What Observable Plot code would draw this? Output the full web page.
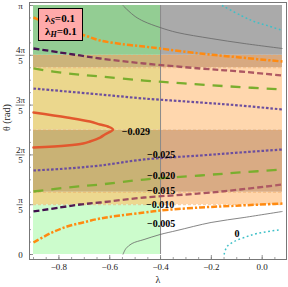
<!DOCTYPE html>
<html><head><meta charset="utf-8">
<script src="https://cdn.jsdelivr.net/npm/d3@7"></script>
<script src="https://cdn.jsdelivr.net/npm/@observablehq/plot@0.6"></script>
<style>
body{margin:0;background:#fff;}
#wrap{position:relative;width:288px;height:287px;}
#key{position:absolute;left:38px;top:8px;width:45px;height:33px;background:#ffaaaa;border:1px solid #000;box-sizing:border-box;
 font:bold 11px "Liberation Serif","Times New Roman",serif;line-height:13px;padding:3px 0 0 6px;color:#000}
#key sub{font-size:8px;font-style:italic;vertical-align:-2px;line-height:0}
</style></head><body>
<div id="wrap"><div id="chart"></div>
<div id="key"><div>λ<sub>S</sub>=0.1</div><div>λ<sub>H</sub>=0.1</div></div></div>
<script>
const PI = Math.PI;
// θ band edges and fills (left of λ=-0.4, right of λ=-0.4)
const thetaEdges = [0, PI/5, PI/4, PI/2, 3*PI/4, 4*PI/5, PI];
const lamEdges = [-0.9, -0.4, 0.08];
const leftFills  = ["#ccfccc","#ecd88f","#c9b275","#ebd78d","#ccb47b","#93cd93"];
const rightFills = ["#ffffff","#ffd5ab","#d9ab84","#ffd7ae","#d7a981","#aaaaaa"];

// contour lines: [λ, θ]
const orangeUpper = [[-0.9,2.990],[-0.835,2.902],[-0.757,2.814],[-0.698,2.763],[-0.638,2.700],[-0.540,2.650],[-0.465,2.624],[-0.402,2.599],[-0.244,2.536],[-0.087,2.486],[0.08,2.435]];
const orangeLower = [[-0.9,0.151],[-0.835,0.265],[-0.768,0.353],[-0.705,0.404],[-0.638,0.454],[-0.560,0.492],[-0.465,0.530],[-0.402,0.555],[-0.244,0.593],[-0.087,0.618],[0.08,0.643]];
const brownUpper = [[-0.9,2.599],[-0.796,2.549],[-0.717,2.511],[-0.638,2.473],[-0.465,2.410],[-0.244,2.347],[-0.087,2.309],[0.08,2.258]];
const brownLower = [[-0.9,0.543],[-0.796,0.593],[-0.717,0.631],[-0.638,0.656],[-0.465,0.719],[-0.244,0.770],[-0.087,0.820],[0.08,0.883]];
const greenUpper = [[-0.9,2.347],[-0.768,2.284],[-0.638,2.246],[-0.465,2.195],[-0.307,2.158],[-0.126,2.120],[0.08,2.082]];
const greenLower = [[-0.9,0.795],[-0.768,0.845],[-0.638,0.883],[-0.465,0.946],[-0.244,0.997],[-0.087,1.035],[0.08,1.072]];
const purpleUpper = [[-0.9,2.094],[-0.638,2.019],[-0.465,1.968],[-0.244,1.918],[-0.087,1.880],[0.08,1.829]];
const purpleLower = [[-0.9,1.060],[-0.768,1.085],[-0.638,1.123],[-0.465,1.199],[-0.244,1.249],[-0.087,1.287],[0.08,1.325]];
const redLoop = [[-0.9,1.792],[-0.768,1.729],[-0.678,1.678],[-0.638,1.640],[-0.607,1.615],[-0.587,1.577],[-0.619,1.514],[-0.638,1.476],[-0.678,1.426],[-0.705,1.400],[-0.768,1.375],[-0.9,1.350]];
const grayUpper = [[-0.548,3.1416],[-0.528,3.079],[-0.500,3.003],[-0.465,2.940],[-0.402,2.864],[-0.335,2.801],[-0.201,2.725],[-0.071,2.662],[0.08,2.599]];
const grayLower = [[-0.548,0],[-0.536,0.076],[-0.512,0.139],[-0.465,0.189],[-0.402,0.252],[-0.335,0.303],[-0.201,0.404],[-0.071,0.467],[0.08,0.543]];
const cyanUpper = [[-0.158,3.1416],[-0.083,3.015],[-0.032,2.940],[0.020,2.889],[0.08,2.826]];
const cyanLower = [[-0.150,0],[-0.138,0.101],[-0.110,0.164],[-0.071,0.214],[-0.020,0.265],[0.075,0.315]];

// contour labels
const labelText  = ["−0.029","−0.025","−0.020","−0.015","−0.010","−0.005","0"];
const labelLam   = [-0.497,-0.398,-0.398,-0.398,-0.402,-0.398,-0.099];
const labelTheta = [1.552,1.262,0.997,0.807,0.631,0.391,0.265];

// ticks
const xMajor = [-0.8,-0.6,-0.4,-0.2,0];
const xMinor = d3.range(-0.9,0.08,0.05).map(v=>+v.toFixed(2));
const yMajor = [0,PI/5,2*PI/5,3*PI/5,4*PI/5,PI];
const yMinor = d3.range(0,21).map(k=>k*PI/20);

const bands = [];
for (let i=0;i<thetaEdges.length-1;i++){
  bands.push({x1:lamEdges[0],x2:lamEdges[1],y1:thetaEdges[i],y2:thetaEdges[i+1],fill:leftFills[i]});
  bands.push({x1:lamEdges[1],x2:lamEdges[2],y1:thetaEdges[i],y2:thetaEdges[i+1],fill:rightFills[i]});
}
const labels = labelText.map((t,i)=>({t,x:labelLam[i],y:labelTheta[i]}));
const fx = d=>d[0], fy = d=>d[1];
const fmtY = d=>{const k=Math.round(d*5/PI); return k===0?"0":k===5?"π":(k===1?"":k)+"π\n5";};
const fmtX = d=>d===0?"0.0":d3.format(".1f")(d);
const lineOpts = (o)=>Object.assign({x:fx,y:fy,curve:"catmull-rom",strokeLinecap:"butt"},o);
const W=288,H=287,ML=29,MR=2,MT=2,MB=28;
const FW=W-ML-MR, FH=H-MT-MB;

const svg = Plot.plot({
  width:W,height:H,marginLeft:ML,marginRight:MR,marginTop:MT,marginBottom:MB,
  style:{fontFamily:'"Liberation Serif","Times New Roman",serif',fontSize:"9px",background:"white",color:"#222"},
  x:{domain:[-0.9,0.08],inset:4},
  y:{domain:[0,PI],insetTop:3,insetBottom:5},
  color:{type:"identity"},
  marks:[
    Plot.rect(bands,{x1:"x1",x2:"x2",y1:"y1",y2:"y2",fill:"fill"}),
    Plot.ruleY(thetaEdges.slice(1,-1),{x1:lamEdges[0],x2:lamEdges[2],stroke:"#f0a860",strokeDasharray:"3,2",strokeOpacity:0.6}),
    Plot.ruleX([lamEdges[1]],{y1:0,y2:PI,stroke:"#8a8a8a"}),
    Plot.line(grayUpper,lineOpts({stroke:"#666",strokeWidth:0.8})),
    Plot.line(grayLower,lineOpts({stroke:"#666",strokeWidth:0.8})),
    Plot.line(cyanUpper,lineOpts({stroke:"#3ec0c8",strokeWidth:1.5,strokeDasharray:"1.8,2.6"})),
    Plot.line(cyanLower,lineOpts({stroke:"#3ec0c8",strokeWidth:1.5,strokeDasharray:"1.8,2.6"})),
    Plot.line(purpleUpper,lineOpts({stroke:"#6c4e9e",strokeWidth:2.2,strokeDasharray:"2.6,1.8"})),
    Plot.line(purpleLower,lineOpts({stroke:"#6c4e9e",strokeWidth:2.2,strokeDasharray:"2.6,1.8"})),
    Plot.line(greenUpper,lineOpts({stroke:"#7aae2e",strokeWidth:2.3,strokeDasharray:"10,8"})),
    Plot.line(greenLower,lineOpts({stroke:"#7aae2e",strokeWidth:2.3,strokeDasharray:"10,8"})),
    Plot.line(brownUpper,lineOpts({stroke:"url(#g15)",strokeWidth:2.3,strokeDasharray:"6,3"})),
    Plot.line(brownLower,lineOpts({stroke:"url(#g15)",strokeWidth:2.3,strokeDasharray:"6,3"})),
    Plot.line(orangeUpper,lineOpts({stroke:"#ff8a10",strokeWidth:2.5,strokeDasharray:"6,2,2.2,2"})),
    Plot.line(orangeLower,lineOpts({stroke:"#ff8a10",strokeWidth:2.5,strokeDasharray:"6,2,2.2,2"})),
    Plot.line(redLoop,lineOpts({stroke:"#e2582e",strokeWidth:2.5,strokeLinecap:"round"})),
    Plot.text(labels,{x:"x",y:"y",text:"t",fontWeight:"bold",fontSize:10,fill:"#000"}),
    Plot.frame({stroke:"#777"}),
    Plot.tickX(xMinor,{x:d=>d,insetTop:FH-2,stroke:"#777",strokeWidth:0.7}),
    Plot.tickX(xMajor,{x:d=>d,insetTop:FH-4,stroke:"#777",strokeWidth:0.8}),
    Plot.tickY(yMinor,{y:d=>d,insetRight:FW-2,stroke:"#777",strokeWidth:0.7}),
    Plot.tickY(yMajor,{y:d=>d,insetRight:FW-4,stroke:"#777",strokeWidth:0.8}),
    Plot.tickY([2*PI/5,3*PI/5,4*PI/5],{y:d=>d,insetRight:FW-9,dx:-13.5,stroke:"#222",strokeWidth:0.6}),
    Plot.tickY([PI/5],{y:d=>d,insetRight:FW-6,dx:-12.5,stroke:"#222",strokeWidth:0.6}),
    Plot.axisX({ticks:xMajor,tickSize:0,tickPadding:4,tickFormat:fmtX,label:null}),
    Plot.axisY({ticks:yMajor,tickSize:0,tickPadding:9,textAnchor:"middle",tickFormat:fmtY,lineHeight:1.15,label:null}),
    Plot.text(["λ"],{frameAnchor:"bottom",dy:23,fontSize:10,fill:"#222"}),
    Plot.text(["θ (rad)"],{frameAnchor:"left",rotate:-90,dx:-23,fontSize:10,fill:"#222"})
  ]
});
const defs = document.createElementNS("http://www.w3.org/2000/svg","defs");
defs.innerHTML = '<linearGradient id="g15" x1="0" x2="1" y1="0" y2="0"><stop offset="0" stop-color="#3c0c4c"/><stop offset="0.16" stop-color="#4e1852"/><stop offset="0.32" stop-color="#a0505e"/><stop offset="1" stop-color="#b05a64"/></linearGradient>';
svg.prepend(defs);
document.getElementById("chart").appendChild(svg);
</script></body></html>
